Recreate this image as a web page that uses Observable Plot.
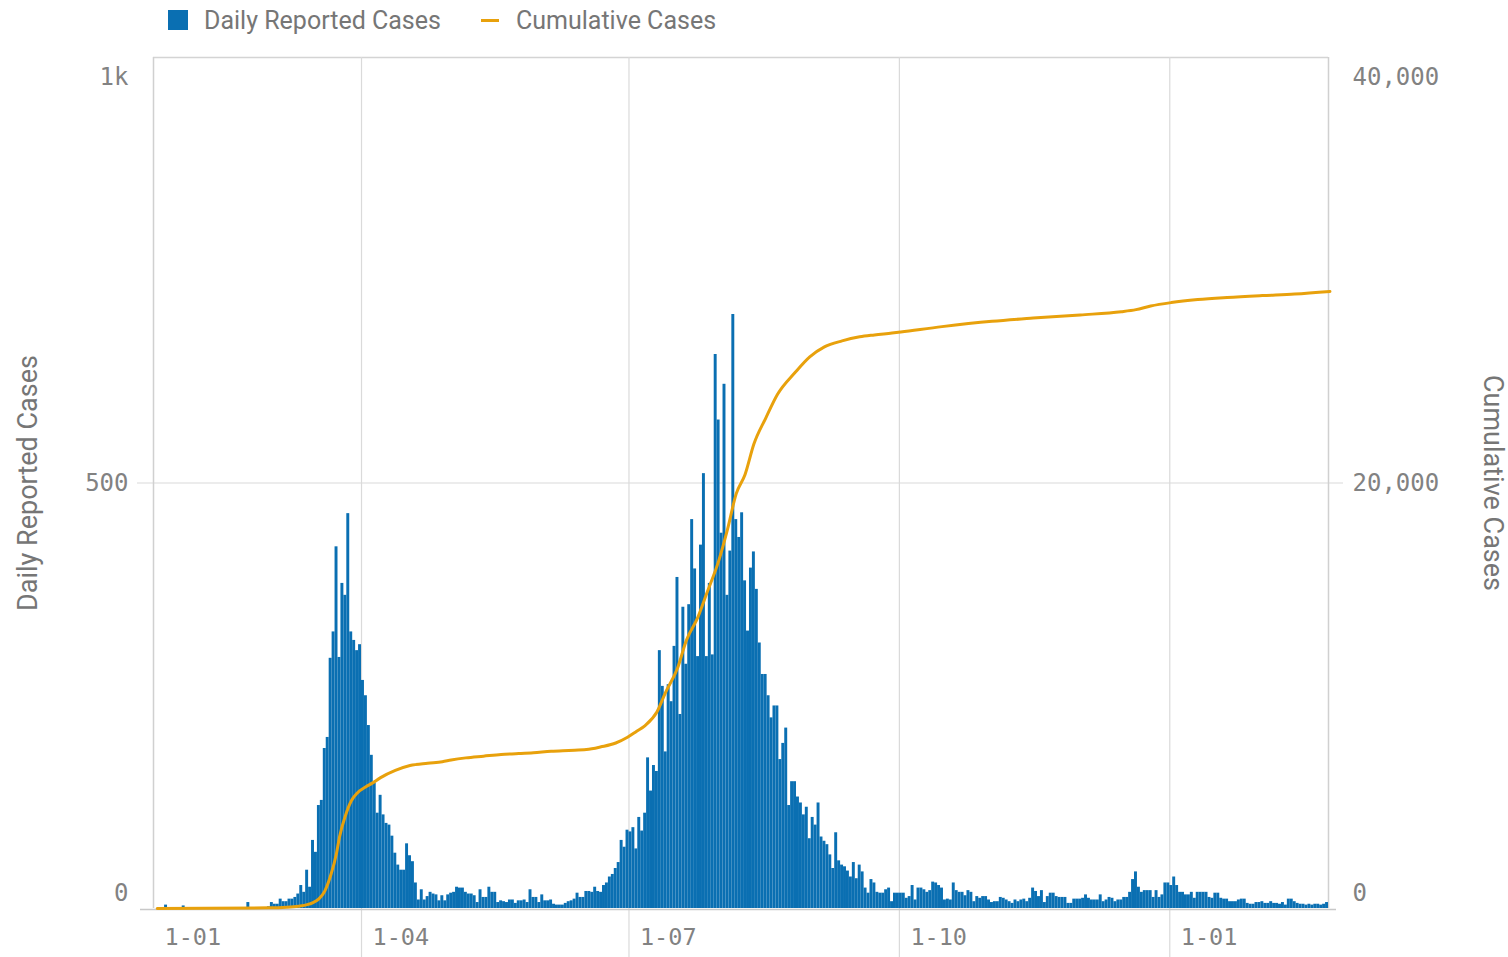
<!DOCTYPE html>
<html>
<head>
<meta charset="utf-8">
<script src="https://cdn.jsdelivr.net/npm/d3@7"></script>
<script src="https://cdn.jsdelivr.net/npm/@observablehq/plot@0.6"></script>
<style>
  html, body { margin: 0; padding: 0; background: #fff; overflow: hidden; }
  #legend { position: relative; height: 42px; font-family: Roboto, "Noto Sans", sans-serif; font-size: 25px; color: #767676; }
  #legend span { position: absolute; }
  #chart svg { display: block; }
</style>
</head>
<body>
<div id="legend">
  <span style="left:168px;top:10px;width:20px;height:20px;background:#0a6fb2;"></span>
  <span id="lg1" style="left:204px;top:6px;line-height:30px;"></span>
  <span style="left:481px;top:19px;width:18px;height:3px;background:#e8a10c;"></span>
  <span id="lg2" style="left:516px;top:6px;line-height:30px;"></span>
</div>
<div id="chart"></div>
<script>
// ---------- data ----------
const seriesNames = ["Daily Reported Cases", "Cumulative Cases"];
const firstDay = "2020-01-22";
const cases2020Jan = [0,0,0,4,0,1,0,1,0,3];
const cases2020Feb = [1,1,0,1, 0,0,0,0,0,0,0,0,0,0,0,0,0,0,0,0,0, 7, 0,0,0,0, 1,1,2];
const cases2020Mar = [7,5,5,11,8,8,11,11,13,17,27,19,45,25,80,66,121,127,188,201,294,325,425,295,382,368,464,325,315,303,310];
const cases2020Apr = [268,250,215,180,147,112,133,110,100,98,85,65,51,45,45,76,62,55,30,10,22,10,14,19,17,16,9,15,9,16];
const cases2020May = [18,19,25,24,24,19,17,17,15,7,22,13,13,25,19,19,7,9,8,7,10,10,6,9,9,10,7,22,13,13,7];
const cases2020Jun = [16,9,9,10,5,4,4,4,6,8,9,11,18,13,13,20,20,19,25,20,19,27,30,37,40,47,54,80,72,92];
const cases2020Jul = [90,95,70,107,91,112,177,138,168,161,303,261,184,263,243,308,389,228,354,287,357,457,399,296,427,511,296,382,298,651,574];
const cases2020Aug = [441,616,368,420,698,457,436,465,385,326,400,419,375,312,275,275,250,224,238,238,175,194,212,121,149,149,131,124,110,119,82];
const cases2020Sep = [107,98,124,84,79,75,63,47,89,56,51,49,44,37,54,35,51,43,24,18,34,30,19,18,18,22,24,8,18,18];
const cases2020Oct = [18,18,12,14,27,10,24,24,22,19,21,31,30,27,24,10,11,10,30,21,19,19,15,21,19,8,14,12,14,14,10];
const cases2020Nov = [7,8,8,13,12,10,8,6,10,8,10,11,8,12,24,20,14,21,7,14,18,18,14,13,13,13,6,6,11,11];
const cases2020Dec = [11,12,16,12,10,10,10,16,8,10,13,12,8,10,10,13,13,19,34,43,25,19,21,21,21,13,21,13,16,30,30];
const cases2021Jan = [27,37,27,19,19,16,16,19,12,19,19,19,19,13,12,18,18,12,11,11,8,8,8,10,11,11,6,5,5,7,7];
const cases2021Feb = [8,6,6,8,6,6,5,7,4,11,11,8,6,5,5,4,5,4,5,5,4,5,7];

const cumulativeDates = ["2020-01-22","2020-02-29","2020-03-06","2020-03-10","2020-03-13","2020-03-15","2020-03-17","2020-03-19","2020-03-21","2020-03-23","2020-03-24","2020-03-26","2020-03-28","2020-03-30","2020-04-02","2020-04-04","2020-04-07","2020-04-12","2020-04-17","2020-04-23","2020-04-28","2020-05-01","2020-05-06","2020-05-12","2020-05-18","2020-05-24","2020-05-29","2020-06-04","2020-06-10","2020-06-16","2020-06-21","2020-06-26","2020-06-30","2020-07-03","2020-07-06","2020-07-10","2020-07-13","2020-07-17","2020-07-20","2020-07-24","2020-07-27","2020-07-31","2020-08-03","2020-08-06","2020-08-09","2020-08-12","2020-08-16","2020-08-20","2020-08-26","2020-08-31","2020-09-05","2020-09-11","2020-09-17","2020-09-22","2020-09-28","2020-10-01","2020-10-15","2020-11-01","2020-11-15","2020-12-01","2020-12-15","2020-12-20","2020-12-25","2021-01-01","2021-01-10","2021-01-20","2021-02-01","2021-02-12","2021-02-24"];
const cumulativeValues = [0,30,60,110,180,280,450,820,1550,2600,3350,4350,5050,5420,5720,5880,6150,6490,6720,6830,6900,6980,7080,7160,7240,7280,7320,7390,7430,7470,7600,7780,8050,8320,8600,9235,10170,11290,12590,13710,14830,16330,17810,19500,20400,21830,23040,24160,25190,25930,26400,26680,26870,26960,27050,27100,27350,27600,27750,27900,28050,28150,28320,28480,28620,28720,28810,28880,29000];

const leftTicks = [0, 500, 1000];
const leftTickLabels = ["0", "500", "1k"];
const rightTickLabels = ["0", "20,000", "40,000"];
const rightMax = 40000;
const monthTicks = ["2020-01-01","2020-04-01","2020-07-01","2020-10-01","2021-01-01"];
const xDomain = ["2020-01-21T05:30:00Z", "2021-02-24T00:00:00Z"];

// ---------- build ----------
document.getElementById("lg1").textContent = seriesNames[0];
document.getElementById("lg2").textContent = seriesNames[1];

const allCases = [].concat(cases2020Jan, cases2020Feb, cases2020Mar, cases2020Apr, cases2020May, cases2020Jun,
  cases2020Jul, cases2020Aug, cases2020Sep, cases2020Oct, cases2020Nov, cases2020Dec, cases2021Jan, cases2021Feb);
const day0 = new Date(firstDay + "T00:00:00Z");
const daily = allCases.map((v, i) => {
  const d = d3.utcDay.offset(day0, i);
  return {date: d, next: d3.utcDay.offset(d, 1), cases: v};
});
const scaleRatio = rightMax / leftTicks[leftTicks.length - 1];
const cumulative = cumulativeDates.map((s, i) => ({date: new Date(s + "T12:00:00Z"), value: cumulativeValues[i]}));
const dStart = new Date(xDomain[0]);
const dEnd = new Date(xDomain[1]);
const months = monthTicks.map(s => new Date(s + "T00:00:00Z"));
const fmt = d3.utcFormat("%-d-%m");

const blue = "#0a6fb2";
const orange = "#e8a10c";
const tickColor = "#828282";
const monoFont = "DejaVu Sans Mono";
const labelDy = [-15, 0, 20];

const marks = [
  Plot.ruleY([leftTicks[1]], {stroke: "#dadada", strokeWidth: 1.2, insetLeft: -16, insetRight: -15}),
  Plot.ruleY([leftTicks[2]], {stroke: "#d4d4d4", strokeWidth: 1.5}),
  Plot.ruleX(months.filter(d => d > dStart), {y1: leftTicks[2], y2: leftTicks[0], stroke: "#dadada", strokeWidth: 1.2, insetBottom: -49}),
  Plot.ruleX([dStart, dEnd], {y1: leftTicks[2], y2: leftTicks[0], stroke: "#d0d0d0", strokeWidth: 1.5}),
  Plot.ruleY([leftTicks[0]], {stroke: "#c8c8c8", strokeWidth: 1.5, insetLeft: -13, insetRight: -8, dy: 1}),
  Plot.rectY(daily, {x1: "date", x2: "next", y: "cases", fill: blue, inset: 0}),
  Plot.line(cumulative, {x: "date", y: d => d.value / scaleRatio, stroke: orange, strokeWidth: 3, curve: "monotone-x"}),
  // x tick labels
  Plot.text(months, {x: d => (d < dStart ? dStart : d), y: leftTicks[0], text: d => fmt(d), textAnchor: "start", dx: 11, dy: 29,
    fontFamily: monoFont, fontSize: 23.5, fill: tickColor}),
  // axis titles
  Plot.text([seriesNames[0]], {frameAnchor: "left", textAnchor: "middle", rotate: -90, dx: -125, fontFamily: "Roboto", fontSize: 27, fill: "#767676"}),
  Plot.text([seriesNames[1]], {frameAnchor: "right", textAnchor: "middle", rotate: 90, dx: 164, fontFamily: "Roboto", fontSize: 27, fill: "#767676"})
];
leftTicks.forEach((t, i) => {
  marks.push(Plot.text([t], {x: () => dStart, y: d => d, text: () => leftTickLabels[i], textAnchor: "end", dx: -25, dy: labelDy[i],
    fontFamily: monoFont, fontSize: 24, fill: tickColor}));
  marks.push(Plot.text([t], {x: () => dEnd, y: d => d, text: () => rightTickLabels[i], textAnchor: "start", dx: 24, dy: labelDy[i],
    fontFamily: monoFont, fontSize: 24, fill: tickColor}));
});

const chart = Plot.plot({
  width: 1508,
  height: 915,
  marginTop: 15,
  marginBottom: 49,
  marginLeft: 153,
  marginRight: 180,
  x: {type: "utc", domain: [dStart, dEnd], axis: null},
  y: {domain: [leftTicks[0], leftTicks[2]], axis: null},
  style: {background: "#fff", fontFamily: "Roboto", overflow: "visible"},
  marks
});
document.getElementById("chart").appendChild(chart);
</script>
</body>
</html>
